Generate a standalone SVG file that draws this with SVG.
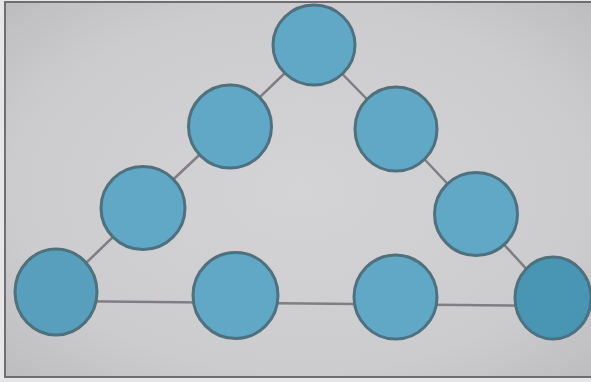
<svg xmlns="http://www.w3.org/2000/svg" width="591" height="382" viewBox="0 0 591 382">
  <defs>
    <radialGradient id="bg" cx="0.5" cy="0.5" r="0.7">
      <stop offset="0" stop-color="#d4d3d6"/>
      <stop offset="0.7" stop-color="#cccbce"/>
      <stop offset="1" stop-color="#bdbcbf"/>
    </radialGradient>
    <style>
      .node { fill: #60a8c5; stroke: #4f717f; stroke-width: 3; }
      .edge { stroke: #807e83; stroke-width: 2.5; fill: none; stroke-linecap: round; }
    </style>
  </defs>
  <rect x="0" y="0" width="591" height="382" fill="#e6e6e8"/>
  <rect x="5" y="2" width="590" height="375" fill="url(#bg)" stroke="#6f6e72" stroke-width="2"/>
  <g id="connectors">
    <polyline class="edge" points="56,292 143,208 230,126 314,45 396,129 476,214 553,298"/>
    <line class="edge" x1="56" y1="301" x2="553" y2="306"/>
  </g>
  <g id="n1"><ellipse class="node" cx="314" cy="45" rx="41" ry="40"/></g>
  <g id="n2"><ellipse class="node" cx="230" cy="126.5" rx="41.5" ry="41.5"/></g>
  <g id="n3"><ellipse class="node" cx="396" cy="129" rx="41" ry="42"/></g>
  <g id="n4"><ellipse class="node" cx="143" cy="208" rx="42" ry="41.5"/></g>
  <g id="n5"><ellipse class="node" cx="476" cy="214" rx="41.5" ry="41.5"/></g>
  <g id="n6"><ellipse class="node" cx="56" cy="292" rx="41" ry="43" style="fill:#579fbc"/></g>
  <g id="n7"><ellipse class="node" cx="235.5" cy="295.5" rx="42.5" ry="43"/></g>
  <g id="n8"><ellipse class="node" cx="395.5" cy="297" rx="41.5" ry="42"/></g>
  <g id="n9"><ellipse class="node" cx="553" cy="298" rx="38" ry="41" style="fill:#4896b4"/></g>
</svg>
